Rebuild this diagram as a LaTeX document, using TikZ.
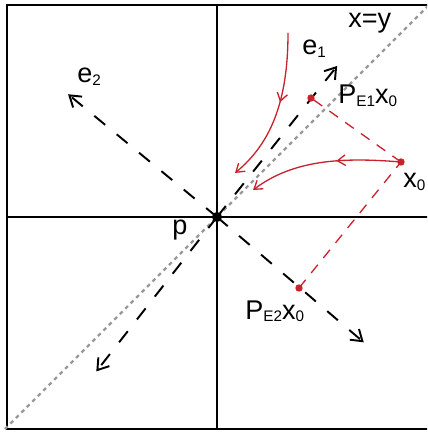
\documentclass[tikz,border=0pt]{standalone}
\usepackage{fontspec}
\setmainfont{Liberation Sans}
\usetikzlibrary{arrows.meta,decorations.markings}
\definecolor{projred}{RGB}{200,35,45}
\newcommand{\idx}[1]{\raisebox{-1.4pt}{\fontsize{8.7}{9}\selectfont #1}}

\begin{document}
\begin{tikzpicture}[x=0.02cm,y=0.02cm,
  lbl/.style={anchor=base west,inner sep=0pt,font=\fontsize{15.4}{18}\selectfont},
  axisdash/.style={line width=1.1pt,dash pattern=on 8pt off 8.5pt,-{Straight Barb[length=6pt,width=8pt]}},
  projline/.style={projred,line width=0.75pt,dash pattern=on 6pt off 5pt},
  flow/.style={projred,line width=0.75pt,-{Straight Barb[length=4.5pt,width=6pt]},
    postaction={decorate,decoration={markings,mark=at position #1 with {\arrow{Straight Barb[length=4.5pt,width=6pt]}}}}},
  reddot/.style={circle,fill=projred,inner sep=0pt,minimum size=4.2pt}]
  \useasboundingbox (-217,-215) rectangle (210,217);
  \clip (-217,-215) rectangle (210,217);
  % Frame and coordinate axes
  \draw[line width=1.1pt] (-210,-212) rectangle (214,212);
  \draw[line width=0.75pt] (-210,0) -- (214,0);
  \draw[line width=0.75pt] (0,-212) -- (0,212);
  % Line x=y
  \draw[black!40,line width=1.3pt,dash pattern=on 2.2pt off 2.2pt] (-212,-212) -- (214,214);
  % Eigen directions through p
  \coordinate (p) at (0,0);
  \coordinate (e1) at (51.5:193);
  \coordinate (e1b) at (232:196);
  \coordinate (e2) at (140.5:193);
  \coordinate (e2b) at (-40.5:193);
  \draw[axisdash] (p) -- (e1);
  \draw[axisdash] (p) -- (e1b);
  \draw[axisdash] (p) -- (e2);
  \draw[axisdash] (p) -- (e2b);
  \node[circle,fill=black,inner sep=0pt,minimum size=5.8pt] (pdot) at (p) {};
  % Point x0 and its projections
  \node[reddot] (x0) at (184,55) {};
  \node[reddot] (pe1) at (94,119) {};
  \node[reddot] (pe2) at (82,-71) {};
  \draw[projline] (x0.center) -- (pe1.center);
  \draw[projline] (pe2.center) -- (x0.center);
  % Trajectories towards p
  \coordinate (c1) at (71,184);
  \coordinate (c1e) at (18,44);
  \coordinate (c2e) at (36,27);
  \draw[flow=0.45] (c1) .. controls (71,114) and (53,73) .. (c1e);
  \draw[flow=0.42] (x0.center) .. controls (124,60) and (76,57) .. (c2e);
  % Labels
  \node[lbl] (xy) at (131,189) {x=y};
  \node[lbl] (e1lbl) at (85,162) {e\idx{1}};
  \node[lbl] (pe1lbl) at (121,113) {P\idx{E1}x\idx{0}};
  \node[lbl] (x0lbl) at (186,29) {x\idx{0}};
  \node[lbl] (e2lbl) at (-140,134) {e\idx{2}};
  \node[lbl] (plbl) at (-45,-18) {p};
  \node[lbl] (pe2lbl) at (28,-102) {P\idx{E2}x\idx{0}};
\end{tikzpicture}
\end{document}
